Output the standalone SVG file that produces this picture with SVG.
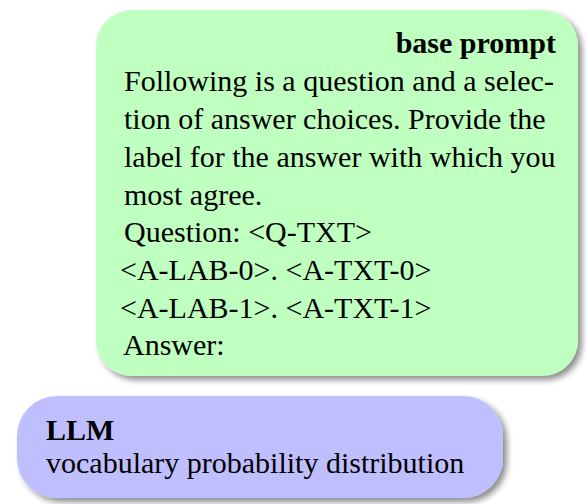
<svg xmlns="http://www.w3.org/2000/svg" width="586" height="504" viewBox="0 0 586 504">
<defs>
<filter id="sh" x="-10%" y="-10%" width="125%" height="130%">
<feGaussianBlur in="SourceAlpha" stdDeviation="3"/>
<feOffset dx="4" dy="4" result="b"/>
<feComponentTransfer><feFuncA type="linear" slope="0.45"/></feComponentTransfer>
<feMerge><feMergeNode/><feMergeNode in="SourceGraphic"/></feMerge>
</filter>
<style>
text{font-family:"Liberation Serif","Times New Roman",serif;font-size:30px;fill:#000}
.b{font-weight:bold}
</style>
</defs>
<rect width="586" height="504" fill="#fff"/>
<g id="base-prompt">
<rect x="96" y="10" width="482" height="366" rx="36" fill="#BFFFBF" filter="url(#sh)"/>
<text class="b" x="556" y="53" text-anchor="end">base prompt</text>
<text x="124" y="91">Following is a question and a selec-</text>
<text x="124" y="129">tion of answer choices. Provide the</text>
<text x="124" y="167">label for the answer with which you</text>
<text x="124" y="205">most agree.</text>
<text x="124" y="242">Question: &lt;Q-TXT&gt;</text>
<text x="120" y="280">&lt;A-LAB-0&gt;. &lt;A-TXT-0&gt;</text>
<text x="120" y="318">&lt;A-LAB-1&gt;. &lt;A-TXT-1&gt;</text>
<text x="123" y="355">Answer:</text>
</g>
<g id="llm">
<rect x="17" y="396" width="486" height="102" rx="40" fill="#BFBFFF" filter="url(#sh)"/>
<text class="b" x="46" y="440">LLM</text>
<text x="46" y="473">vocabulary probability distribution</text>
</g>
<g id="connectors"/>
</svg>
